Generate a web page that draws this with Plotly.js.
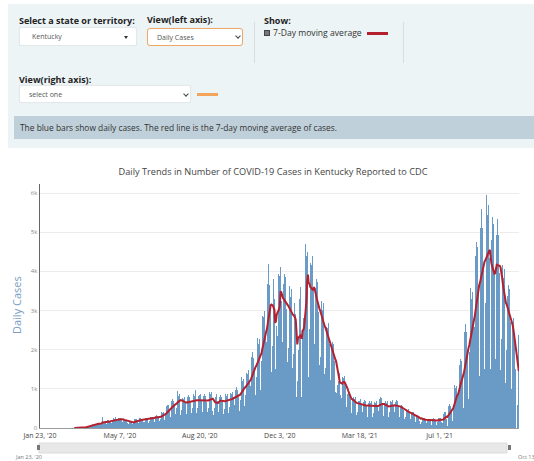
<!DOCTYPE html>
<html><head><meta charset="utf-8">
<script src="https://cdn.plot.ly/plotly-3.0.1.min.js"></script>
<style>
body{margin:0;width:534px;height:461px;overflow:hidden;background:#fff;font-family:"Open Sans",Arial,sans-serif;position:relative}
.abs{position:absolute}
#panel{left:8px;top:4px;width:526px;height:144px;background:#edf4f6}
.lbl{font-weight:700;font-size:9px;color:#222;white-space:nowrap;line-height:12px}
.box{background:#fff;border:1px solid #e3e8ea;border-radius:2px;box-sizing:border-box;font-size:7px;color:#555;white-space:nowrap;box-shadow:0 0 1px rgba(0,0,0,0.08)}
.caret{width:0;height:0;border-left:2.5px solid transparent;border-right:2.5px solid transparent;border-top:3px solid #333}
.chev{width:3px;height:3px;border-right:1px solid #444;border-bottom:1px solid #444;transform:rotate(45deg)}
.sep{width:1px;height:41px;background:#d6dee2}
#info{left:14px;top:116px;width:520px;height:23px;background:#bfd0da;font-size:8.4px;color:#333;line-height:23px;padding-left:6px;box-sizing:border-box;white-space:nowrap}
#chart{left:0;top:148px;width:534px;height:313px}
</style></head>
<body>
<div id="panel" class="abs"></div>
<div class="abs lbl" style="left:19px;top:15px">Select a state or territory:</div>
<div class="abs box" style="left:19px;top:27px;width:118px;height:19px;line-height:17px;padding-left:12px">Kentucky</div>
<div class="abs caret" style="left:124px;top:36px"></div>
<div class="abs lbl" style="left:147px;top:14px">View(left axis):</div>
<div class="abs box" style="left:147px;top:28px;width:96px;height:18px;line-height:18px;padding-left:9px;border:1px solid #f0a868;border-radius:3px">Daily Cases</div>
<div class="abs chev" style="left:236px;top:34px"></div>
<div class="abs sep" style="left:254px;top:22px"></div>
<div class="abs sep" style="left:403px;top:22px"></div>
<div class="abs lbl" style="left:264px;top:15px">Show:</div>
<div class="abs" style="left:264px;top:30px;width:6px;height:6px;background:#777;border:1px solid #444;box-sizing:border-box"></div>
<div class="abs" style="left:273px;top:27px;font-size:8.6px;color:#333;line-height:12px;white-space:nowrap">7-Day moving average</div>
<div class="abs" style="left:367px;top:32px;width:21px;height:3px;background:#b5202e"></div>
<div class="abs lbl" style="left:19px;top:74px">View(right axis):</div>
<div class="abs box" style="left:19px;top:85px;width:172px;height:18px;line-height:18px;padding-left:9px">select one</div>
<div class="abs chev" style="left:184px;top:92px"></div>
<div class="abs" style="left:197px;top:93px;width:21px;height:3px;background:#f4a55c"></div>
<div id="info" class="abs">The blue bars show daily cases. The red line is the 7-day moving average of cases.</div>
<div id="chart" class="abs"></div>
<script>
// Daily reported cases, Kentucky, one row per week (Mon..Sun), starting Mon 2020-03-02
const startDate = '2020-03-02';
const dailyCases = [
0,0,0,0,1,0,0,
1,2,2,3,4,5,4,
5,9,6,13,21,22,28,
25,38,51,46,54,52,38,
60,80,107,87,110,96,84,
80,118,132,121,125,116,84,
120,274,147,158,142,116,93,
140,205,210,190,220,175,120,
170,250,260,240,270,215,140,
180,260,265,245,255,220,150,
150,220,215,210,220,190,125,
105,160,175,150,165,130,95,
130,220,230,210,220,185,135,
150,245,250,235,240,200,150,
160,260,265,245,255,215,140,
170,280,290,270,285,230,155,
190,310,330,300,320,260,180,
240,370,400,380,410,300,210,
330,560,580,540,590,470,290,
420,690,740,700,710,580,360,
500,830,950,810,860,680,340,
470,760,800,740,790,640,350,
480,800,830,780,840,640,390,
500,830,870,820,960,600,390,
500,820,860,830,880,680,400,
490,810,860,820,850,660,410,
520,880,930,860,910,720,430,
330,520,850,790,870,700,420,
470,800,840,780,830,670,370,
490,820,870,810,860,660,390,
530,890,950,880,930,730,410,
580,970,1040,960,1020,800,440,
720,1200,1290,1190,1260,1000,550,
840,1400,1500,1390,1470,1160,640,
1080,1810,1940,1790,1900,1500,830,
1300,2160,2310,2140,2270,1790,980,
1720,2860,3060,2830,3000,2380,1300,
2200,3680,4200,3640,3850,3050,1430,
2100,3600,3800,3300,1500,3400,2600,
2340,3920,4190,3870,4100,3250,1780,
2200,3680,3940,3640,3850,3050,1690,
2030,3390,3630,3350,3550,2810,1540,
1900,3200,3400,2900,800,1200,2700,
2000,3300,3600,2500,800,2500,2800,
2600,4800,4700,4400,4500,3600,1300,
2520,4220,4500,4160,4400,3500,1900,
2140,3570,3810,3530,3730,2960,1610,
1820,3040,3250,3010,3180,2530,1370,
1540,2580,2750,2550,2690,2140,1150,
1230,2050,2190,2030,2140,1700,910,
900,1300,1100,1200,1400,1300,850,
770,1290,1380,1270,1340,1070,580,
530,880,940,870,920,730,380,
450,750,800,740,790,620,330,
420,700,750,700,740,590,300,
400,670,710,660,700,560,290,
390,640,690,640,680,540,270,
390,660,700,650,690,550,280,
430,730,780,720,760,610,310,
390,640,690,640,680,540,270,
410,680,730,670,710,570,290,
400,670,710,660,700,560,290,
340,560,600,560,590,470,240,
280,470,500,460,490,390,210,
230,390,410,380,410,330,160,
100,320,340,310,330,170,110,
150,250,270,250,260,200,90,
140,230,240,220,240,180,80,
130,230,250,230,240,170,80,
160,260,280,250,260,150,110,
120,350,420,380,400,240,50,
330,560,610,560,600,450,180,
600,1020,1100,1020,1080,820,310,
950,1620,1750,1620,1700,1310,500,
1450,2460,2660,2460,2590,1980,750,
1940,3300,3570,3300,3480,2660,1000,
2570,4380,4740,4380,4620,3530,1330,
3000,5100,5600,5100,5350,4100,1500,
3200,5500,5950,5450,5700,4350,1700,
1500,4800,5400,5000,5200,4000,1750,
2900,4920,5330,4920,5200,3960,1470,
2260,3840,4160,3840,4050,3100,1150,
1980,3360,3640,3360,3550,2710,1000,
1500,2600,2800,2200,2300,1500,0,
600,1200,2380
];
const xTickDates = ['2020-01-23','2020-05-07','2020-08-20','2020-12-03','2021-03-18','2021-07-01','2021-10-13'];
const yTickVals = [0,1000,2000,3000,4000,5000,6000];
const yTickText = ['0','1k','2k','3k','4k','5k','6k'];
const chartTitle = 'Daily Trends in Number of COVID-19 Cases in Kentucky Reported to CDC';

const t0 = Date.parse(startDate + 'T00:00:00Z');
const dates = dailyCases.map((_, i) => new Date(t0 + i * 86400000).toISOString().slice(0, 10));
const avgDates = [], avgVals = [];
for (let i = 6; i < dailyCases.length; i++) {
  let s = 0; for (let k = i - 6; k <= i; k++) s += dailyCases[k];
  avgDates.push(dates[i]); avgVals.push(s / 7);
}

const H = 313, L = 40, T = 36, B = 33, R = 15;
const pw = 534 - L - R, ph = H - T - B;
const px = x => (x - L) / pw;           // page x -> paper x
const py = y => (148 + T + ph - y) / ph; // page y -> paper y

const traces = [
  {type:'bar', x:dates, y:dailyCases, marker:{color:'rgb(106,154,198)', line:{width:0}}, hoverinfo:'x+y'},
  {type:'scatter', mode:'lines', x:avgDates, y:avgVals, line:{color:'#b5202e', width:2}, hoverinfo:'x+y'}
];
const layout = {
  width:534, height:H,
  margin:{l:L, r:R, t:T, b:B},
  paper_bgcolor:'#fff', plot_bgcolor:'#fff',
  font:{family:'"Open Sans", Arial, sans-serif', color:'#444'},
  title:{text:chartTitle, font:{size:9.2, color:'#444'}, x:273/534, xref:'container', xanchor:'center', y:1 - 24/H, yref:'container', yanchor:'middle'},
  showlegend:false, bargap:0,
  xaxis:{type:'date', range:['2020-01-23', '2021-10-13 06:00'], tickmode:'array', tickvals:xTickDates, tickformat:"%b %-d, '%y",
    tickfont:{size:7, color:'#444'}, ticklabelstandoff:1, showgrid:false, showline:true, linecolor:'#9a9a9a', linewidth:1, ticks:'', zeroline:false, fixedrange:true},
  yaxis:{range:[0, 6230], tickmode:'array', tickvals:yTickVals, ticktext:yTickText, tickfont:{size:6, color:'#8a8a8a'},
    showgrid:true, gridcolor:'#ececec', gridwidth:1, showline:true, linecolor:'#666', linewidth:1.5, ticks:'', zeroline:false, fixedrange:true},
  shapes:[
    {type:'rect', xref:'paper', yref:'paper', x0:px(39), x1:px(507), y0:py(453), y1:py(443), fillcolor:'#e8e8e8', line:{color:'#dcdcdc', width:1}, layer:'above'},
    {type:'rect', xref:'paper', yref:'paper', x0:px(37), x1:px(40), y0:py(450), y1:py(445), fillcolor:'#777', line:{width:0}},
    {type:'rect', xref:'paper', yref:'paper', x0:px(508), x1:px(511), y0:py(450), y1:py(445), fillcolor:'#777', line:{width:0}}
  ],
  annotations:[
    {text:'Daily Cases', xref:'paper', yref:'paper', x:px(16), y:py(305), textangle:-90, showarrow:false, font:{size:11, color:'#7a9ec4'}, xanchor:'center', yanchor:'middle'},
    {text:"Jan 23, '20", xref:'paper', yref:'paper', x:px(28), y:py(457), showarrow:false, font:{size:5.5, color:'#777'}, xanchor:'center', yanchor:'middle'},
    {text:'Oct 13', xref:'paper', yref:'paper', x:px(526), y:py(457), showarrow:false, font:{size:5.5, color:'#777'}, xanchor:'center', yanchor:'middle'}
  ]
};
Plotly.newPlot('chart', traces, layout, {displayModeBar:false, staticPlot:true});
</script>
</body></html>
